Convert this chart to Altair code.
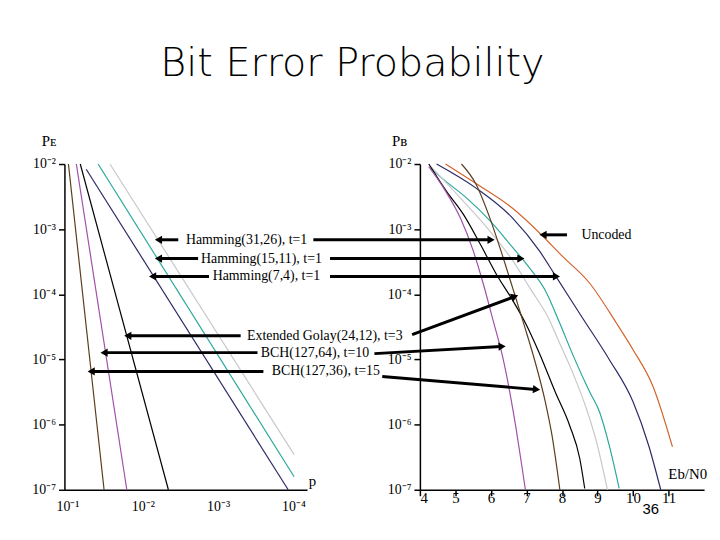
import altair as alt
import pandas as pd

# ---------------- data (log10 values) ----------------
series_names = ["BCH(127,36)", "BCH(127,64)", "Golay(24,12)", "Hamming(7,4)",
                "Hamming(15,11)", "Hamming(31,26)", "Uncoded"]
series_colors = ["#5c3d1e", "#a050a8", "#000000", "#2b2b66",
                 "#2aa89a", "#c8c8cc", "#d2642d"]

# left panel: P_E versus channel error probability p (straight lines in log-log)
left_names = ["BCH(127,36)", "BCH(127,64)", "Golay(24,12)", "Hamming(7,4)",
              "Hamming(15,11)", "Hamming(31,26)"]
left_logp_start = [-1.013, -1.118, -1.170, -1.249, -1.407, -1.564]
left_logp_end = [-1.486, -1.788, -2.340, -3.930, -4.009, -4.009]
left_logpe_start = [-2.0, -2.0, -2.0, -2.08, -2.0, -2.0]
left_logpe_end = [-7.0, -7.0, -7.0, -7.0, -6.80, -6.46]

# right panel: P_B versus Eb/N0 (dB)
unc_eb = [4.72, 5.58, 6.61, 7.39, 8.0, 8.78, 9.53, 10.0, 10.56, 11.11]
unc_lp = [-2.0, -2.30, -2.68, -3.07, -3.41, -3.83, -4.44, -4.85, -5.41, -6.34]
h74_eb = [4.47, 5.58, 6.61, 7.36, 7.81, 8.61, 9.33, 10.0, 10.44, 10.78]
h74_lp = [-2.0, -2.37, -2.83, -3.33, -3.71, -4.39, -5.0, -5.65, -6.32, -7.0]
h15_eb = [4.31, 4.67, 5.31, 5.97, 6.61, 7.08, 7.53, 7.92, 8.33, 8.78, 9.06, 9.33, 9.61]
h15_lp = [-2.07, -2.24, -2.52, -2.87, -3.28, -3.59, -3.94, -4.42, -4.96, -5.50, -5.81, -6.32, -6.98]
h31_eb = [4.31, 5.22, 5.97, 6.61, 7.08, 7.67, 7.86, 8.33, 8.69, 8.97, 9.28]
h31_lp = [-2.04, -2.57, -3.03, -3.48, -3.89, -4.42, -4.66, -5.24, -5.76, -6.26, -7.0]
gol_eb = [4.25, 4.75, 5.22, 5.69, 6.14, 6.61, 6.97, 7.36, 7.81, 8.22, 8.5, 8.64]
gol_lp = [-2.0, -2.42, -2.77, -3.22, -3.68, -4.09, -4.44, -4.90, -5.50, -6.02, -6.52, -6.98]
b64_eb = [4.25, 4.67, 5.14, 5.5, 5.78, 6.06, 6.33, 6.53, 6.71, 6.86, 6.97]
b64_lp = [-2.04, -2.37, -2.83, -3.33, -3.83, -4.40, -4.96, -5.50, -6.07, -6.60, -7.0]
b36_eb = [5.17, 5.58, 5.97, 6.28, 6.61, 6.94, 7.25, 7.53, 7.72, 7.94]
b36_lp = [-2.0, -2.31, -2.83, -3.33, -3.90, -4.48, -5.05, -5.65, -6.17, -7.0]

# annotation labels (placed in left-panel coordinates: log10 p, log10 P)
label_texts = ["Hamming(31,26), t=1", "Hamming(15,11), t=1", "Hamming(7,4), t=1",
               "Extended Golay(24,12), t=3", "BCH(127,64), t=10", "BCH(127,36), t=15"]
label_logp = [-3.378, -3.575, -3.641, -4.416, -4.285, -4.429]
label_logy = [-3.163, -3.451, -3.725, -4.637, -4.895, -5.184]

# arrows pointing at the left-panel curves (tail log p, head log p, log y)
larrow_tail = [-2.471, -2.734, -2.879, -3.299, -3.522, -3.601]
larrow_head = [-2.208, -2.208, -2.130, -1.801, -1.486, -1.315]
larrow_y = [-3.163, -3.451, -3.725, -4.637, -4.895, -5.184]

# arrows pointing at the right-panel curves (Eb/N0 and log P of tail / head)
rarrow_tail_eb = [1.0, 1.47, 1.47, 3.78, 2.72, 2.94, 8.14]
rarrow_head_eb = [5.97, 6.81, 7.81, 6.64, 6.28, 7.25, 7.5]
rarrow_tail_lp = [-3.163, -3.451, -3.725, -4.62, -4.91, -5.26, -3.087]
rarrow_head_lp = [-3.163, -3.451, -3.725, -4.04, -4.80, -5.46, -3.087]
rarrow_angle = [90, 90, 90, 70, 87, 95, 270]

uncoded_text = ["Uncoded"]
uncoded_eb = [9.25]
uncoded_lp = [-3.087]

y_ticks = [-2, -3, -4, -5, -6, -7]
p_ticks = [-1, -2, -3, -4]
eb_ticks = [4, 5, 6, 7, 8, 9, 10, 11]
slide_number = "36"

# ---------------- helpers ----------------
SUP = {"-": "\u207b", "1": "\u00b9", "2": "\u00b2", "3": "\u00b3", "4": "\u2074",
       "5": "\u2075", "6": "\u2076", "7": "\u2077"}


def pow_label_expr(exps):
    expr = "''"
    for e in exps:
        lab = "10" + "".join(SUP[c] for c in str(e))
        expr = f"round(log(datum.value)/LN10) == {e} ? '{lab}' : ({expr})"
    return expr


SERIF = "Liberation Serif"
color_scale = alt.Scale(domain=series_names, range=series_colors)
y_scale = alt.Scale(type="log", domain=[1e-7, 1e-2], nice=False)

# ---------------- left panel ----------------
rows = []
for n, a, b, c, d in zip(left_names, left_logp_start, left_logp_end,
                         left_logpe_start, left_logpe_end):
    rows.append({"code": n, "p": 10 ** a, "pe": 10 ** c, "o": 0})
    rows.append({"code": n, "p": 10 ** b, "pe": 10 ** d, "o": 1})
left_df = pd.DataFrame(rows)

x_left_scale = alt.Scale(type="log", domain=[10 ** -4.18, 10 ** -0.96], reverse=True, nice=False)

left_lines = alt.Chart(left_df).mark_line(strokeWidth=1.2).encode(
    x=alt.X("p:Q", scale=x_left_scale,
            axis=alt.Axis(values=[10.0 ** e for e in p_ticks], labelExpr=pow_label_expr(p_ticks),
                          ticks=False, grid=False, labelPadding=10, labelFont=SERIF, labelFontSize=14,
                          labelColor="black", domainColor="black", domainWidth=1.5,
                          title="p", titleFont=SERIF, titleFontSize=15, titleFontWeight="normal",
                          titleX=250, titleY=-1, titleAlign="center", titleBaseline="bottom")),
    y=alt.Y("pe:Q", scale=y_scale,
            axis=alt.Axis(values=[10.0 ** e for e in y_ticks], labelExpr=pow_label_expr(y_ticks),
                          tickSize=6, tickColor="black", tickWidth=1.5, grid=False, labelPadding=3,
                          labelFont=SERIF, labelFontSize=14, labelColor="black",
                          domainColor="black", domainWidth=1.5,
                          title="P\u1d07", titleAngle=0, titleFont=SERIF, titleFontSize=15,
                          titleFontWeight="normal", titleX=-16, titleY=-16,
                          titleAlign="center", titleBaseline="bottom")),
    color=alt.Color("code:N", scale=color_scale, legend=None),
    order="o:Q",
)

lab_df = pd.DataFrame({"t": label_texts, "p": [10 ** v for v in label_logp],
                       "y": [10 ** v for v in label_logy]})
left_text = alt.Chart(lab_df).mark_text(font=SERIF, fontSize=14, color="black").encode(
    x=alt.X("p:Q", scale=x_left_scale), y=alt.Y("y:Q", scale=y_scale), text="t:N")

la_df = pd.DataFrame({"x": [10 ** v for v in larrow_tail], "x2": [10 ** v for v in larrow_head],
                      "y": [10 ** v for v in larrow_y]})
left_shaft = alt.Chart(la_df).mark_rule(strokeWidth=3, color="black").encode(
    x=alt.X("x:Q", scale=x_left_scale), x2="x2:Q", y=alt.Y("y:Q", scale=y_scale))
left_head = alt.Chart(la_df).mark_point(shape="triangle-left", filled=True, size=70,
                                        color="black", opacity=1).encode(
    x=alt.X("x2:Q", scale=x_left_scale), y=alt.Y("y:Q", scale=y_scale))

left = alt.layer(left_lines, left_shaft, left_head, left_text).properties(width=245, height=329)

# ---------------- right panel ----------------
right_sets = [("Uncoded", unc_eb, unc_lp), ("Hamming(7,4)", h74_eb, h74_lp),
              ("Hamming(15,11)", h15_eb, h15_lp), ("Hamming(31,26)", h31_eb, h31_lp),
              ("Golay(24,12)", gol_eb, gol_lp), ("BCH(127,64)", b64_eb, b64_lp),
              ("BCH(127,36)", b36_eb, b36_lp)]
rows = []
for n, eb, lp in right_sets:
    for i, (e, l) in enumerate(zip(eb, lp)):
        rows.append({"code": n, "eb": e, "pb": 10 ** l, "o": i})
right_df = pd.DataFrame(rows)

x_right_scale = alt.Scale(domain=[4, 12], nice=False)

right_lines = alt.Chart(right_df).mark_line(strokeWidth=1.2, interpolate="monotone").encode(
    x=alt.X("eb:Q", scale=x_right_scale,
            axis=alt.Axis(values=eb_ticks, format="d", tickSize=6, tickColor="black", tickWidth=1.5,
                          grid=False, labelPadding=-5, labelFont=SERIF, labelFontSize=15,
                          labelColor="black", domainColor="black", domainWidth=1.5,
                          title="Eb/N0", titleFont=SERIF, titleFontSize=15, titleFontWeight="normal",
                          titleX=270, titleY=-8, titleAlign="center", titleBaseline="bottom")),
    y=alt.Y("pb:Q", scale=y_scale,
            axis=alt.Axis(values=[10.0 ** e for e in y_ticks], labelExpr=pow_label_expr(y_ticks),
                          tickSize=6, tickColor="black", tickWidth=1.5, grid=False, labelPadding=3,
                          labelFont=SERIF, labelFontSize=14, labelColor="black",
                          domainColor="black", domainWidth=1.5,
                          title="P\u0299", titleAngle=0, titleFont=SERIF, titleFontSize=15,
                          titleFontWeight="normal", titleX=-21, titleY=-16,
                          titleAlign="center", titleBaseline="bottom")),
    color=alt.Color("code:N", scale=color_scale, legend=None),
    order="o:Q",
)

ra_df = pd.DataFrame({"x": rarrow_tail_eb, "x2": rarrow_head_eb,
                      "y": [10 ** v for v in rarrow_tail_lp], "y2": [10 ** v for v in rarrow_head_lp],
                      "a": rarrow_angle})
right_shaft = alt.Chart(ra_df).mark_rule(strokeWidth=3, color="black").encode(
    x=alt.X("x:Q", scale=x_right_scale), x2="x2:Q",
    y=alt.Y("y:Q", scale=y_scale), y2="y2:Q")
right_head = alt.Chart(ra_df).mark_point(shape="triangle", filled=True, size=70,
                                         color="black", opacity=1).encode(
    x=alt.X("x2:Q", scale=x_right_scale), y=alt.Y("y2:Q", scale=y_scale),
    angle=alt.Angle("a:Q", scale=None))

unc_df = pd.DataFrame({"t": uncoded_text, "eb": uncoded_eb, "y": [10 ** v for v in uncoded_lp]})
unc_text = alt.Chart(unc_df).mark_text(font=SERIF, fontSize=14, color="black").encode(
    x=alt.X("eb:Q", scale=x_right_scale), y=alt.Y("y:Q", scale=y_scale), text="t:N")

num_df = pd.DataFrame({"t": [slide_number], "eb": [10.5], "y": [10 ** -7.3]})
num_text = alt.Chart(num_df).mark_text(font="Liberation Sans", fontSize=15, color="black").encode(
    x=alt.X("eb:Q", scale=x_right_scale), y=alt.Y("y:Q", scale=y_scale), text="t:N")

right = alt.layer(right_lines, right_shaft, right_head, unc_text, num_text).properties(
    width=287, height=329)

chart = alt.hconcat(left, right, spacing=114, bounds="flush").resolve_scale(
    x="independent", y="independent"
).properties(
    title=alt.TitleParams("Bit Error Probability", font="DejaVu Sans", fontSize=40,
                          fontWeight=200, color="black", anchor="middle", offset=50, dx=-17),
    padding={"left": 24, "top": 34, "right": 5, "bottom": 5},
    background="white",
).configure_view(stroke=None)

chart.save("out.html", embed_options={"renderer": "svg", "actions": False})
